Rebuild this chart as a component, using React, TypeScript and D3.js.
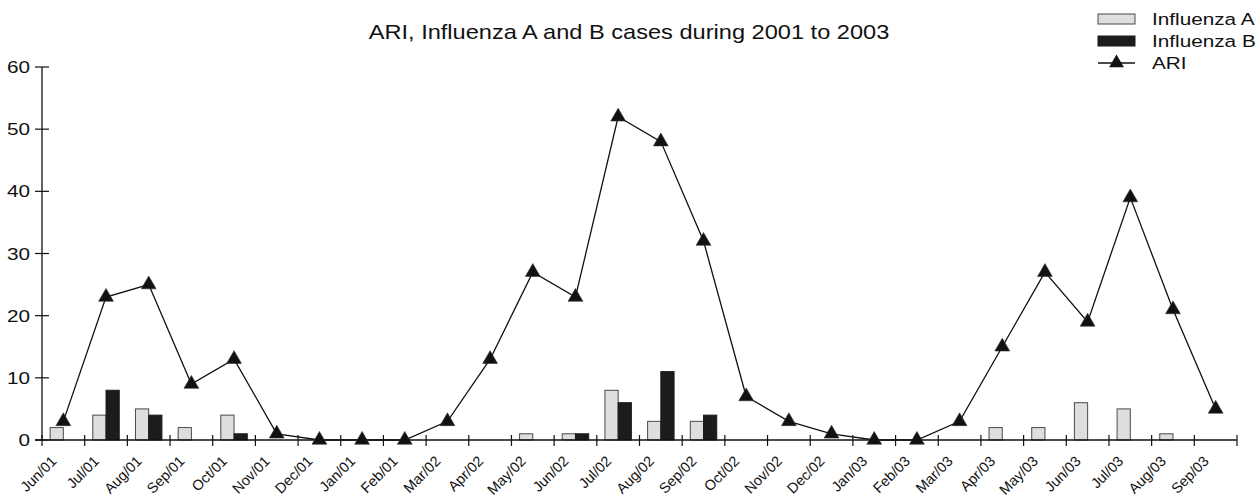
import React, { useRef, useEffect } from 'react';
import * as d3 from 'd3';

const months = [
  'Jun/01', 'Jul/01', 'Aug/01', 'Sep/01', 'Oct/01', 'Nov/01', 'Dec/01', 'Jan/01', 'Feb/01',
  'Mar/02', 'Apr/02', 'May/02', 'Jun/02', 'Jul/02', 'Aug/02', 'Sep/02', 'Oct/02', 'Nov/02',
  'Dec/02', 'Jan/03', 'Feb/03', 'Mar/03', 'Apr/03', 'May/03', 'Jun/03', 'Jul/03', 'Aug/03', 'Sep/03',
];
const fluA = [2, 4, 5, 2, 4, 0, 0, 0, 0, 0, 0, 1, 1, 8, 3, 3, 0, 0, 0, 0, 0, 0, 2, 2, 6, 5, 1, 0];
const fluB = [0, 8, 4, 0, 1, 0, 0, 0, 0, 0, 0, 0, 1, 6, 11, 4, 0, 0, 0, 0, 0, 0, 0, 0, 0, 0, 0, 0];
const ari = [3, 23, 25, 9, 13, 1, 0, 0, 0, 3, 13, 27, 23, 52, 48, 32, 7, 3, 1, 0, 0, 3, 15, 27, 19, 39, 21, 5];
const yTicks = [0, 10, 20, 30, 40, 50, 60];
const title = 'ARI, Influenza A and B cases during 2001 to 2003';
const legendLabels = ['Influenza A', 'Influenza B', 'ARI'];

const W = 1258;
const H = 498;
const FONT = '"Liberation Sans", Arial, Helvetica, sans-serif';
const INK = '#111';

const Chart: React.FC = () => {
  const svgRef = useRef<SVGSVGElement | null>(null);

  useEffect(() => {
    document.body.style.margin = '0';
    if (!svgRef.current) return;
    const svg = d3.select(svgRef.current);
    svg.selectAll('*').remove();

    const left = 42;
    const right = 1237;
    const top = 67;
    const bottom = 440;

    const x = d3.scaleBand().domain(months).range([left, right]).padding(0);
    const y = d3.scaleLinear().domain([0, 60]).range([bottom, top]);
    const cx = (m: string) => x(m)! + x.bandwidth() / 2;
    const bw = x.bandwidth() * 0.31;

    // title
    svg
      .append('text')
      .attr('transform', `translate(${W / 2},39) scale(1.18,1)`)
      .attr('text-anchor', 'middle')
      .style('font-family', FONT)
      .style('font-size', '20px')
      .attr('fill', INK)
      .text(title);

    // bars
    const bars = svg.append('g');
    bars
      .selectAll('.barA')
      .data(months.map((m, i) => ({ m, v: fluA[i] })).filter((d) => d.v > 0))
      .enter()
      .append('rect')
      .attr('x', (d) => cx(d.m) - bw)
      .attr('y', (d) => y(d.v))
      .attr('width', bw)
      .attr('height', (d) => bottom - y(d.v))
      .attr('fill', '#dedede')
      .attr('stroke', '#4a4a4a')
      .attr('stroke-width', 1);
    bars
      .selectAll('.barB')
      .data(months.map((m, i) => ({ m, v: fluB[i] })).filter((d) => d.v > 0))
      .enter()
      .append('rect')
      .attr('x', (d) => cx(d.m))
      .attr('y', (d) => y(d.v))
      .attr('width', bw)
      .attr('height', (d) => bottom - y(d.v))
      .attr('fill', '#1c1c1c')
      .attr('stroke', '#1c1c1c')
      .attr('stroke-width', 1);

    // axes
    const axes = svg.append('g').attr('stroke', INK);
    axes
      .append('line')
      .attr('x1', left)
      .attr('x2', left)
      .attr('y1', top)
      .attr('y2', bottom)
      .attr('stroke-width', 1.3);
    axes
      .append('line')
      .attr('x1', left - 7)
      .attr('x2', right)
      .attr('y1', bottom)
      .attr('y2', bottom)
      .attr('stroke-width', 1.6);
    axes
      .selectAll('.yt')
      .data(yTicks)
      .enter()
      .append('line')
      .attr('x1', left - 7)
      .attr('x2', left + 7)
      .attr('y1', (d) => y(d))
      .attr('y2', (d) => y(d))
      .attr('stroke-width', 1.2);
    const bounds = months.map((m) => x(m)!).concat([right]);
    axes
      .selectAll('.xt')
      .data(bounds)
      .enter()
      .append('line')
      .attr('x1', (d) => d)
      .attr('x2', (d) => d)
      .attr('y1', bottom - 5)
      .attr('y2', bottom + 6)
      .attr('stroke-width', 1.2);

    svg
      .append('g')
      .selectAll('text')
      .data(yTicks)
      .enter()
      .append('text')
      .attr('transform', (d) => `translate(${left - 12},${y(d)}) scale(1.22,1)`)
      .attr('dy', '0.36em')
      .attr('text-anchor', 'end')
      .style('font-family', FONT)
      .style('font-size', '17px')
      .attr('fill', INK)
      .text((d) => d);

    svg
      .append('g')
      .selectAll('text')
      .data(months)
      .enter()
      .append('text')
      .attr('transform', (d) => `translate(${cx(d) - 6},${bottom + 22}) rotate(-45)`)
      .attr('text-anchor', 'end')
      .style('font-family', FONT)
      .style('font-size', '14.5px')
      .attr('fill', INK)
      .text((d) => d);

    // ARI line
    const line = d3
      .line<number>()
      .x((_, i) => cx(months[i]))
      .y((d) => y(d));
    svg
      .append('path')
      .datum(ari)
      .attr('d', line)
      .attr('fill', 'none')
      .attr('stroke', '#111')
      .attr('stroke-width', 1.3);

    const tri = d3.symbol().type(d3.symbolTriangle).size(95);
    svg
      .append('g')
      .selectAll('path')
      .data(ari)
      .enter()
      .append('path')
      .attr('d', tri)
      .attr('transform', (d, i) => `translate(${cx(months[i])},${y(d)})`)
      .attr('fill', '#111')
      .attr('stroke', '#333')
      .attr('stroke-width', 0.6);

    // legend
    const lg = svg.append('g');
    const rowY = [19, 41, 63];
    lg.append('rect')
      .attr('x', 1098)
      .attr('y', rowY[0] - 5)
      .attr('width', 37)
      .attr('height', 10)
      .attr('fill', '#dedede')
      .attr('stroke', '#4a4a4a');
    lg.append('rect')
      .attr('x', 1098)
      .attr('y', rowY[1] - 5)
      .attr('width', 37)
      .attr('height', 10)
      .attr('fill', '#1c1c1c')
      .attr('stroke', '#1c1c1c');
    lg.append('line')
      .attr('x1', 1098)
      .attr('x2', 1135)
      .attr('y1', rowY[2])
      .attr('y2', rowY[2])
      .attr('stroke', '#111')
      .attr('stroke-width', 1.3);
    lg.append('path')
      .attr('d', tri)
      .attr('transform', `translate(1116.5,${rowY[2]})`)
      .attr('fill', '#111');
    lg.selectAll('text')
      .data(legendLabels)
      .enter()
      .append('text')
      .attr('transform', (d, i) => `translate(1152,${rowY[i] + 6}) scale(1.22,1)`)
      .style('font-family', FONT)
      .style('font-size', '17px')
      .attr('fill', INK)
      .text((d) => d);
  }, []);

  return (
    <svg
      ref={svgRef}
      width={W}
      height={H}
      style={{ display: 'block', position: 'absolute', left: 0, top: 0, background: '#fff' }}
    />
  );
};

export default function App() {
  return <Chart />;
}
